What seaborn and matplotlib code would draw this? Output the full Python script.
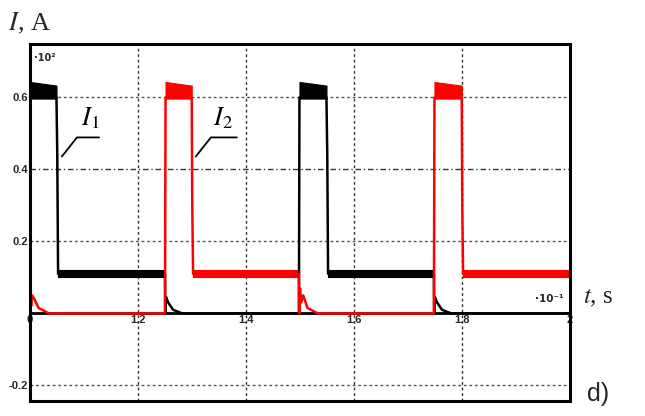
import numpy as np
import pandas as pd
import matplotlib
matplotlib.use("Agg")
import matplotlib.pyplot as plt
import seaborn as sns
from matplotlib.patches import Rectangle

# ---------------- data (time in units of 1e-1 s, current in units of 1e2 A) ----------------
x_ticks = [1.0, 1.2, 1.4, 1.6, 1.8, 2.0]
x_ticklabels = ["0", "1.2", "1.4", "1.6", "1.8", "2"]
y_ticks = [-0.2, 0.2, 0.4, 0.6]
y_ticklabels = ["-0.2", "0.2", "0.4", "0.6"]

I1_t = [1.000, 1.001, 1.049, 1.0505, 1.052, 1.250, 1.2505, 1.252, 1.256, 1.265, 1.282,
        1.498, 1.499, 1.549, 1.5505, 1.552, 1.748, 1.7485, 1.750, 1.754, 1.763, 1.780, 2.000]
I1_v = [0.000, 0.600, 0.600, 0.440, 0.110, 0.110, 0.000, 0.045, 0.030, 0.010, 0.000,
        0.000, 0.600, 0.600, 0.440, 0.110, 0.110, 0.000, 0.045, 0.030, 0.010, 0.000, 0.000]

I2_t = [1.000, 1.002, 1.004, 1.008, 1.016, 1.035, 1.250, 1.251, 1.2995, 1.3005, 1.302,
        1.498, 1.4985, 1.500, 1.502, 1.506, 1.514, 1.533, 1.748, 1.749, 1.7995, 1.8005, 1.802, 2.000]
I2_v = [0.070, 0.020, 0.050, 0.040, 0.015, 0.000, 0.000, 0.600, 0.600, 0.300, 0.110,
        0.110, 0.000, 0.070, 0.030, 0.050, 0.015, 0.000, 0.000, 0.600, 0.600, 0.300, 0.110, 0.110]

# ripple envelopes: (start, end, lower, upper_start, upper_end)
I1_high_bands = [(1.001, 1.049, 0.597, 0.643, 0.633), (1.499, 1.549, 0.597, 0.643, 0.633)]
I2_high_bands = [(1.251, 1.2995, 0.597, 0.643, 0.633), (1.749, 1.7995, 0.597, 0.643, 0.633)]
I1_low_bands = [(1.052, 1.250, 0.100, 0.122, 0.122), (1.552, 1.748, 0.100, 0.122, 0.122)]
I2_low_bands = [(1.302, 1.498, 0.100, 0.122, 0.122), (1.802, 2.000, 0.100, 0.122, 0.122)]

df = pd.concat([
    pd.DataFrame({"t": I1_t, "I": I1_v, "series": "I1"}),
    pd.DataFrame({"t": I2_t, "I": I2_v, "series": "I2"}),
], ignore_index=True)

colors = {"I1": "#000000", "I2": "#ff0000"}

# ---------------- figure ----------------
sns.set_style("white")
plt.rcParams["mathtext.fontset"] = "stix"
fig = plt.figure(figsize=(6.45, 4.16), dpi=100)
ax = fig.add_axes([30 / 645, 1 - 400.5 / 416, 540 / 645, 357 / 416])

ax.set_xlim(1.0, 2.0)
ax.set_ylim(-0.242, 0.75)

# grid
for xv in x_ticks[1:-1]:
    ax.axvline(xv, color="#333333", lw=1.0, ls=(0, (2, 2)), zorder=1)
for yv in [0.6, 0.2, -0.2]:
    ax.axhline(yv, color="#555555", lw=1.0, ls=(0, (2, 2)), zorder=1)
ax.axhline(0.4, color="#333333", lw=1.0, ls=(0, (4, 2, 1, 2)), zorder=1)

# ripple bands
def draw_bands(bands, color):
    for (a, b, lo, u0, u1) in bands:
        ax.fill_between([a, b], [lo, lo], [u0, u1], color=color, lw=0.8, zorder=3)

draw_bands(I1_high_bands, colors["I1"])
draw_bands(I1_low_bands, colors["I1"])
draw_bands(I2_high_bands, colors["I2"])
draw_bands(I2_low_bands, colors["I2"])

sns.lineplot(data=df, x="t", y="I", hue="series", palette=colors, sort=False,
             estimator=None, lw=1.8, legend=False, ax=ax, zorder=4)

# axes styling
ax.spines["bottom"].set_position(("data", 0))
for s in ["left", "bottom", "top", "right"]:
    ax.spines[s].set_linewidth(2.0)
    ax.spines[s].set_color("black")
ax.add_patch(Rectangle((0, 0), 1, 1, transform=ax.transAxes, fill=False,
                       lw=2.2, ec="black", clip_on=False, zorder=6))

ax.set_xticks(x_ticks)
ax.set_xticklabels(x_ticklabels)
ax.set_yticks(y_ticks)
ax.set_yticklabels(y_ticklabels)
ax.set_yticks(np.arange(-0.24, 0.75, 0.04), minor=True)
ax.tick_params(axis="both", which="major", direction="in", length=4, width=1.2, pad=1.5,
               labelsize=8)
ax.tick_params(axis="y", which="minor", direction="in", length=3, width=1.0)
for lab in ax.get_xticklabels() + ax.get_yticklabels():
    lab.set_fontweight("bold")
    lab.set_family("Liberation Sans")
ax.set_xlabel("")
ax.set_ylabel("")

# annotations
ax.text(1.111, 0.505, r"$I_{\mathit{1}}$", fontsize=19, ha="center", va="bottom", color="black")
ax.plot([1.059, 1.087, 1.128], [0.436, 0.489, 0.489], color="black", lw=1.3, zorder=5)
ax.text(1.357, 0.505, r"$I_{\mathit{2}}$", fontsize=19, ha="center", va="bottom", color="black")
ax.plot([1.307, 1.335, 1.383], [0.436, 0.489, 0.489], color="black", lw=1.3, zorder=5)

# axis labels and unit multipliers
fig.text(8 / 645, 1 - 23 / 416, r"$I$, A", fontsize=19, family="Liberation Serif",
         ha="left", va="center")
fig.text(583 / 645, 1 - 298 / 416, r"$t$, s", fontsize=18, family="Liberation Serif",
         ha="left", va="center")
fig.text(34 / 645, 1 - 58 / 416, "·10²", fontsize=7, fontweight="bold",
         family="DejaVu Sans", ha="left", va="center")
fig.text(535 / 645, 1 - 299 / 416, "·10⁻¹", fontsize=7.5, fontweight="bold",
         family="DejaVu Sans", ha="left", va="center")
fig.text(587 / 645, 1 - 394 / 416, "d)", fontsize=18, family="Liberation Sans",
         ha="left", va="center")

fig.savefig("out.png", dpi=100)
